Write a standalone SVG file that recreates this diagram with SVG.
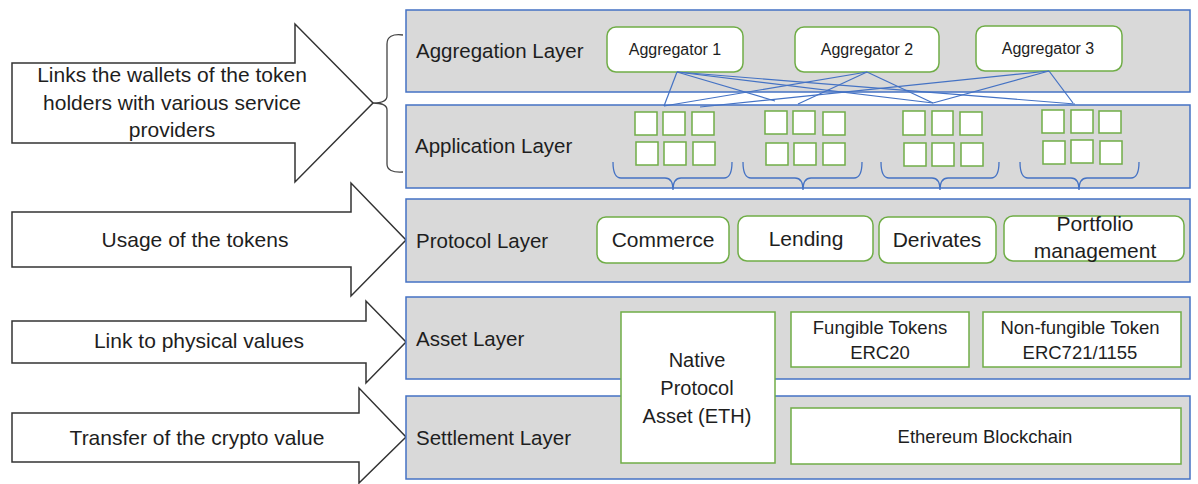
<svg xmlns="http://www.w3.org/2000/svg" width="1198" height="484" viewBox="0 0 1198 484">
<style>
.layer{fill:#D9D9D9;stroke:#4472C4;stroke-width:1.5}
.arrow{fill:#fff;stroke:#333;stroke-width:1.5;stroke-linejoin:miter}
.gbox{fill:#fff;stroke:#70AD47;stroke-width:1.5}
.sq{fill:#fff;stroke:#70AD47;stroke-width:1.5}
.conn{stroke:#4472C4;stroke-width:1.2;fill:none}
.brace{stroke:#4472C4;stroke-width:1.3;fill:none}
.gbrace{stroke:#444;stroke-width:1.3;fill:none}
text{font-family:"Liberation Sans",Arial,sans-serif;fill:#1e1e1e}
.big{font-size:21px;text-anchor:middle}
.lbl{font-size:20.5px}
.agg{font-size:16px;text-anchor:middle}
.mid{font-size:18.5px;text-anchor:middle}
.nat{font-size:20px;text-anchor:middle}
</style>
<rect width="1198" height="484" fill="#fff"/>

<g id="arrow-aggregation">
<polygon class="arrow" points="12,63 295,63 295,24 373,103 295,182 295,143 12,143"/>
<text class="big" x="172" y="82">Links the wallets of the token</text>
<text class="big" x="172" y="110">holders with various service</text>
<text class="big" x="172" y="137">providers</text>
</g>
<g id="arrow-protocol">
<polygon class="arrow" points="12,212 351,212 351,183 406,240 351,296 351,267 12,267"/>
<text class="big" x="195" y="247">Usage of the tokens</text>
</g>
<g id="arrow-asset">
<polygon class="arrow" points="12,321 366,321 366,301 406,342 366,383 366,363 12,363"/>
<text class="big" x="199" y="348">Link to physical values</text>
</g>
<g id="arrow-settlement">
<polygon class="arrow" points="12,413 359,413 359,388 406,437 359,483 359,462 12,462"/>
<text class="big" x="197" y="445">Transfer of the crypto value</text>
</g>
<g id="brace-left">
<path class="gbrace" d="M403,35 Q387,33 387,44 L387,96 Q387,103 373,103 Q387,103 387,110 L387,164 Q387,173 403,172"/>
</g>

<g id="aggregation-layer">
<rect class="layer" x="406" y="10" width="784" height="82"/>
<text class="lbl" x="416" y="58">Aggregation Layer</text>
</g>
<g id="application-layer">
<rect class="layer" x="406" y="105" width="784" height="83"/>
<text class="lbl" x="415" y="153">Application Layer</text>
</g>
<g id="protocol-layer">
<rect class="layer" x="406" y="199" width="784" height="83"/>
<text class="lbl" x="416" y="248">Protocol Layer</text>
</g>
<g id="asset-layer">
<rect class="layer" x="406" y="297" width="784" height="82"/>
<text class="lbl" x="416" y="346">Asset Layer</text>
</g>
<g id="settlement-layer">
<rect class="layer" x="406" y="396" width="784" height="83"/>
<text class="lbl" x="416" y="445">Settlement Layer</text>
</g>

<g id="aggregator-1">
<rect class="gbox" x="607" y="27" width="136" height="45" rx="9"/>
<text class="agg" x="675" y="55">Aggregator 1</text>
</g>
<g id="aggregator-2">
<rect class="gbox" x="795" y="27" width="144" height="45" rx="9"/>
<text class="agg" x="867" y="55">Aggregator 2</text>
</g>
<g id="aggregator-3">
<rect class="gbox" x="976" y="26" width="146" height="45" rx="9"/>
<text class="agg" x="1048" y="54">Aggregator 3</text>
</g>

<g id="app-group-1">
<rect class="sq" x="635" y="112" width="22" height="23"/>
<rect class="sq" x="663" y="112" width="22" height="23"/>
<rect class="sq" x="692" y="112" width="22" height="23"/>
<rect class="sq" x="636" y="142" width="22" height="23"/>
<rect class="sq" x="664" y="142" width="22" height="23"/>
<rect class="sq" x="693" y="142" width="22" height="23"/>
<path class="brace" d="M613,162 Q613,178 621,178 L665,178 Q673,178 673,190 Q673,178 681,178 L724,178 Q732,178 732,162"/>
</g>
<g id="app-group-2">
<rect class="sq" x="765" y="111" width="22" height="23"/>
<rect class="sq" x="793" y="111" width="22" height="23"/>
<rect class="sq" x="823" y="112" width="22" height="23"/>
<rect class="sq" x="766" y="143" width="22" height="22"/>
<rect class="sq" x="794" y="143" width="22" height="22"/>
<rect class="sq" x="823" y="143" width="22" height="22"/>
<path class="brace" d="M743,162 Q743,178 751,178 L795,178 Q803,178 803,190 Q803,178 811,178 L854,178 Q862,178 862,162"/>
</g>
<g id="app-group-3">
<rect class="sq" x="903" y="111" width="22" height="24"/>
<rect class="sq" x="932" y="111" width="21" height="24"/>
<rect class="sq" x="960" y="112" width="22" height="23"/>
<rect class="sq" x="904" y="143" width="22" height="23"/>
<rect class="sq" x="932" y="143" width="22" height="23"/>
<rect class="sq" x="961" y="143" width="22" height="23"/>
<path class="brace" d="M881,162 Q881,178 889,178 L932,178 Q940,178 940,190 Q940,178 948,178 L991,178 Q999,178 999,162"/>
</g>
<g id="app-group-4">
<rect class="sq" x="1042" y="110" width="22" height="23"/>
<rect class="sq" x="1071" y="110" width="22" height="23"/>
<rect class="sq" x="1099" y="111" width="22" height="22"/>
<rect class="sq" x="1043" y="141" width="22" height="23"/>
<rect class="sq" x="1071" y="140" width="22" height="23"/>
<rect class="sq" x="1100" y="141" width="22" height="23"/>
<path class="brace" d="M1020,162 Q1020,178 1028,178 L1071,178 Q1079,178 1079,190 Q1079,178 1087,178 L1131,178 Q1139,178 1139,162"/>
</g>

<g id="commerce">
<rect class="gbox" x="597" y="217" width="132" height="46" rx="9"/>
<text class="big" x="663" y="247">Commerce</text>
</g>
<g id="lending">
<rect class="gbox" x="738" y="216" width="135" height="45" rx="9"/>
<text class="big" x="806" y="246">Lending</text>
</g>
<g id="derivates">
<rect class="gbox" x="879" y="217" width="117" height="46" rx="9"/>
<text class="big" x="937" y="247">Derivates</text>
</g>
<g id="portfolio">
<rect class="gbox" x="1004" y="216" width="180" height="45" rx="9"/>
<text class="big" x="1095" y="231">Portfolio</text>
<text class="big" x="1095" y="258">management</text>
</g>

<g id="fungible">
<rect class="gbox" x="791" y="312" width="178" height="55"/>
<text class="mid" x="880" y="334">Fungible Tokens</text>
<text class="mid" x="880" y="359">ERC20</text>
</g>
<g id="non-fungible">
<rect class="gbox" x="983" y="312" width="198" height="55"/>
<text class="mid" x="1080" y="334">Non-fungible Token</text>
<text class="mid" x="1080" y="359">ERC721/1155</text>
</g>
<g id="ethereum">
<rect class="gbox" x="791" y="408" width="390" height="56"/>
<text class="mid" x="985" y="443">Ethereum Blockchain</text>
</g>
<g id="native-asset">
<rect class="gbox" x="621" y="312" width="154" height="151"/>
<text class="nat" x="697" y="367">Native</text>
<text class="nat" x="697" y="395">Protocol</text>
<text class="nat" x="697" y="423">Asset (ETH)</text>
</g>

<g id="connectors">
<line class="conn" x1="677" y1="72" x2="664" y2="106"/>
<line class="conn" x1="677" y1="72" x2="775" y2="101"/>
<line class="conn" x1="677" y1="72" x2="933" y2="103"/>
<line class="conn" x1="677" y1="72" x2="1075" y2="104"/>
<line class="conn" x1="867" y1="72" x2="664" y2="106"/>
<line class="conn" x1="867" y1="72" x2="798" y2="104"/>
<line class="conn" x1="867" y1="72" x2="933" y2="103"/>
<line class="conn" x1="1049" y1="71" x2="700" y2="107"/>
<line class="conn" x1="1049" y1="71" x2="933" y2="103"/>
<line class="conn" x1="1049" y1="71" x2="1073" y2="103"/>
</g>
</svg>
